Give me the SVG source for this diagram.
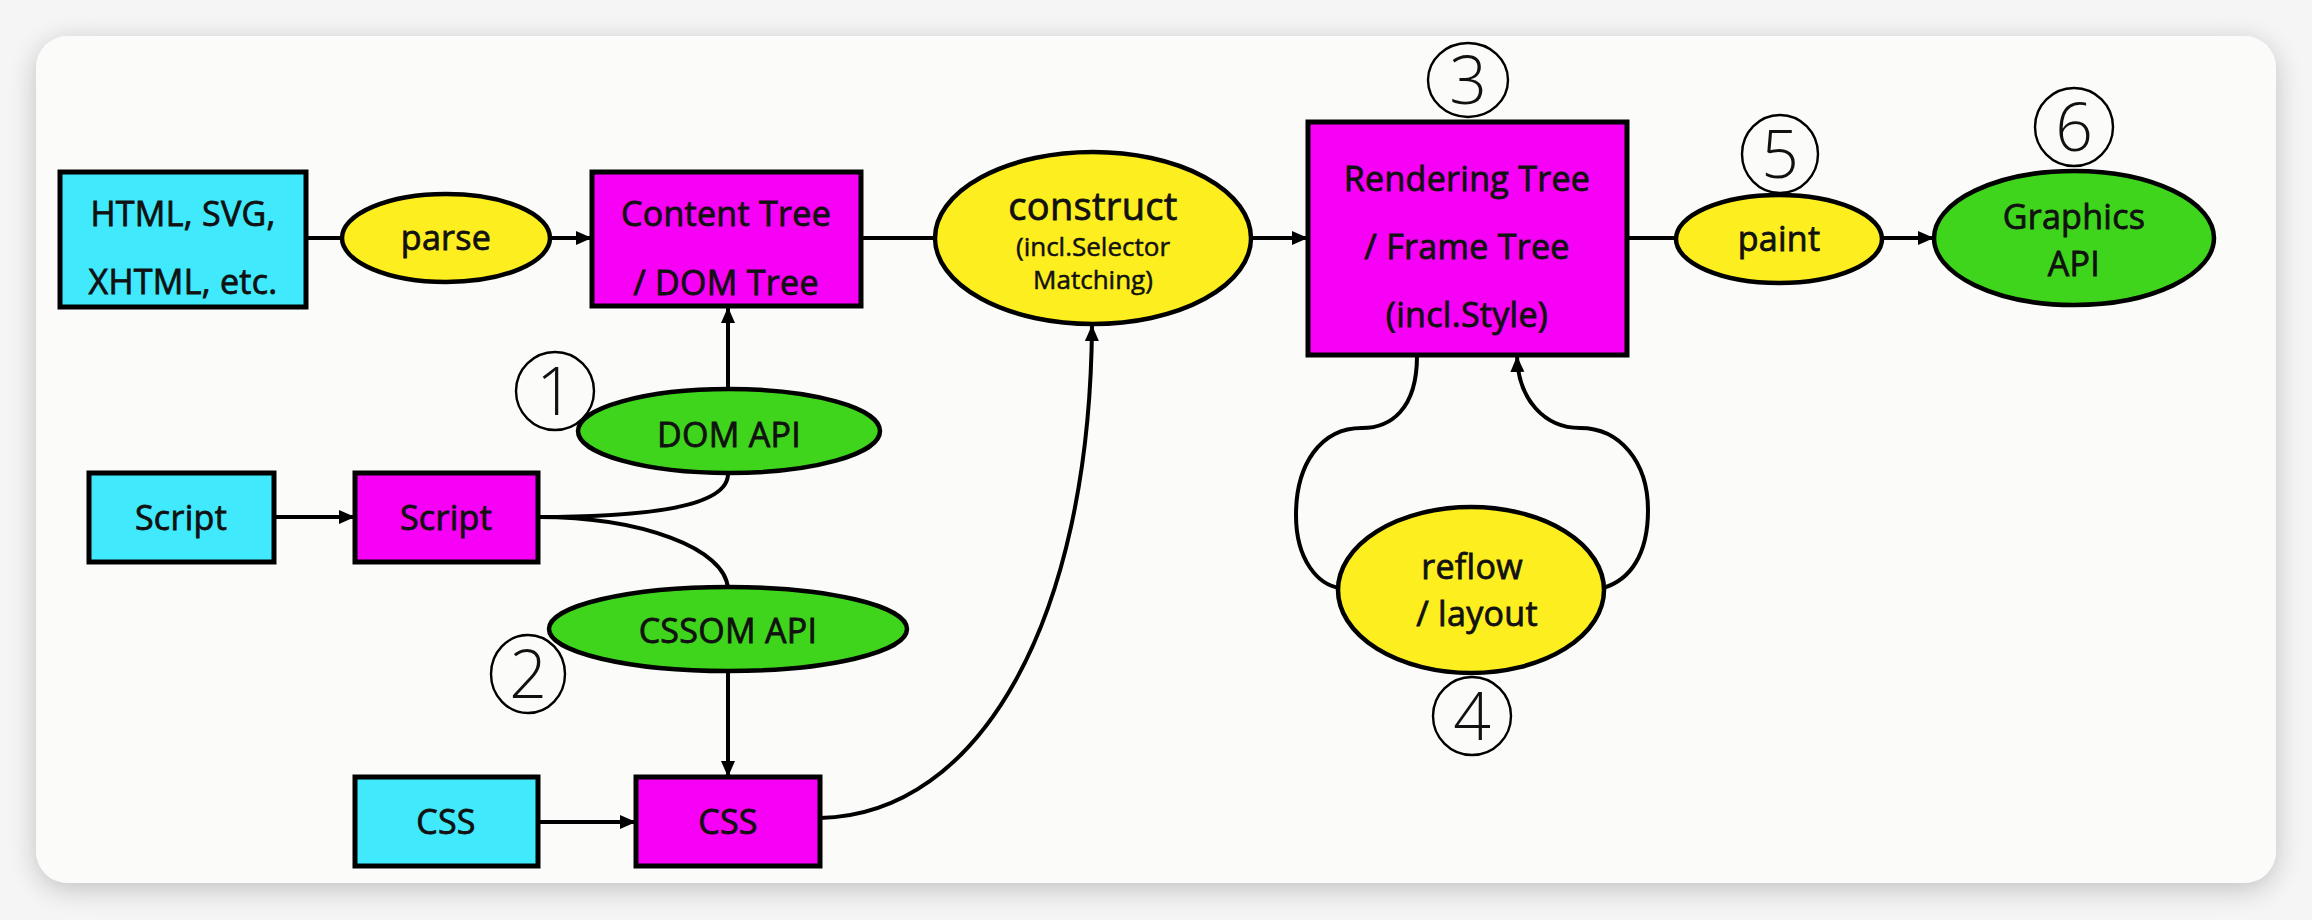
<svg xmlns="http://www.w3.org/2000/svg" width="2312" height="920" viewBox="0 0 2312 920">
<defs>
<filter id="sh" x="-5%" y="-10%" width="110%" height="120%">
<feGaussianBlur in="SourceAlpha" stdDeviation="14"/>
<feOffset dx="0" dy="6"/>
<feComponentTransfer><feFuncA type="linear" slope="0.22"/></feComponentTransfer>
<feMerge><feMergeNode/><feMergeNode in="SourceGraphic"/></feMerge>
</filter>
<marker id="ah" markerUnits="userSpaceOnUse" markerWidth="18" markerHeight="16" refX="16" refY="8" orient="auto">
<path d="M0,1 L16,8 L0,15 Z" fill="#000"/>
</marker>
<style>
.box{stroke:#000;stroke-width:5}
.ell{stroke:#000;stroke-width:4.5}
.cy{fill:#40e9fb}
.mg{fill:#f600f6}
.ye{fill:#fdee1f}
.gr{fill:#3fd51c}
.num{fill:none;stroke:#000;stroke-width:2.4}
text{font-family:"Open Sans","Liberation Sans",sans-serif;fill:#111;text-anchor:middle}
.t{font-size:34px;stroke:#111;stroke-width:0.8;letter-spacing:0.3px}
.s{font-size:26px;stroke:#111;stroke-width:0.5}
.n{font-size:66px;font-weight:300}
.c{fill:none;stroke:#000;stroke-width:4}
</style>
</defs>
<rect width="2312" height="920" fill="#f5f5f5"/>
<rect x="36" y="36" width="2240" height="847" rx="32" fill="#fbfcfa" filter="url(#sh)"/>

<g id="connectors">
<line class="c" x1="306" y1="238" x2="343" y2="238"/>
<line class="c" x1="549" y1="238" x2="592" y2="238" marker-end="url(#ah)"/>
<line class="c" x1="728" y1="389" x2="728" y2="307" marker-end="url(#ah)"/>
<line class="c" x1="274" y1="517" x2="355" y2="517" marker-end="url(#ah)"/>
<path class="c" d="M538,517 C640,517 728,508 728,474"/>
<path class="c" d="M538,517 C640,517 726,548 728,589"/>
<line class="c" x1="728" y1="671" x2="728" y2="777" marker-end="url(#ah)"/>
<line class="c" x1="538" y1="822" x2="636" y2="822" marker-end="url(#ah)"/>
<path class="c" d="M820,818 C980,815 1090,620 1092,325" marker-end="url(#ah)"/>
<line class="c" x1="861" y1="238" x2="936" y2="238"/>
<line class="c" x1="1251" y1="238" x2="1308" y2="238" marker-end="url(#ah)"/>
<line class="c" x1="1627" y1="238" x2="1677" y2="238"/>
<line class="c" x1="1881" y1="238" x2="1934" y2="238" marker-end="url(#ah)"/>
<path class="c" d="M1417,356 C1417,410 1390,428 1362,428 C1320,428 1296,465 1296,515 C1296,560 1318,585 1340,588"/>
<path class="c" d="M1603,588 C1630,580 1648,555 1648,510 C1648,462 1620,428 1580,428 C1545,428 1518,400 1517,356" marker-end="url(#ah)"/>
</g>

<g id="n-html">
<rect class="box cy" x="60" y="172" width="246" height="135"/>
<text class="t" x="183" y="226">HTML, SVG,</text>
<text class="t" x="183" y="294">XHTML, etc.</text>
</g>
<g id="n-parse">
<ellipse class="ell ye" cx="446" cy="238" rx="104" ry="44"/>
<text class="t" x="446" y="250">parse</text>
</g>
<g id="n-content">
<rect class="box mg" x="592" y="172" width="269" height="134"/>
<text class="t" x="726" y="226">Content Tree</text>
<text class="t" x="726" y="295">/ DOM Tree</text>
</g>
<g id="n-construct">
<ellipse class="ell ye" cx="1093" cy="238" rx="158" ry="86"/>
<text class="t" x="1093" y="220" style="font-size:38px">construct</text>
<text class="s" x="1093" y="256">(incl.Selector</text>
<text class="s" x="1093" y="289">Matching)</text>
</g>
<g id="n-render">
<rect class="box mg" x="1308" y="122" width="319" height="233"/>
<text class="t" x="1467" y="191">Rendering Tree</text>
<text class="t" x="1467" y="259">/ Frame Tree</text>
<text class="t" x="1467" y="327">(incl.Style)</text>
</g>
<g id="n-paint">
<ellipse class="ell ye" cx="1779" cy="239" rx="103" ry="44"/>
<text class="t" x="1779" y="251">paint</text>
</g>
<g id="n-graphics">
<ellipse class="ell gr" cx="2074" cy="238" rx="140" ry="67"/>
<text class="t" x="2074" y="229">Graphics</text>
<text class="t" x="2074" y="276">API</text>
</g>
<g id="n-domapi">
<ellipse class="ell gr" cx="729" cy="431" rx="151" ry="42"/>
<text class="t" x="729" y="447">DOM API</text>
</g>
<g id="n-script-src">
<rect class="box cy" x="89" y="473" width="185" height="89"/>
<text class="t" x="181" y="530">Script</text>
</g>
<g id="n-script">
<rect class="box mg" x="355" y="473" width="183" height="89"/>
<text class="t" x="446" y="530">Script</text>
</g>
<g id="n-cssomapi">
<ellipse class="ell gr" cx="728" cy="629" rx="179" ry="42"/>
<text class="t" x="728" y="643">CSSOM API</text>
</g>
<g id="n-css-src">
<rect class="box cy" x="355" y="777" width="183" height="89"/>
<text class="t" x="446" y="834">CSS</text>
</g>
<g id="n-css">
<rect class="box mg" x="636" y="777" width="184" height="89"/>
<text class="t" x="728" y="834">CSS</text>
</g>
<g id="n-reflow">
<ellipse class="ell ye" cx="1471" cy="590" rx="133" ry="83"/>
<text class="t" x="1472" y="579">reflow</text>
<text class="t" x="1477" y="626">/ layout</text>
</g>
<g id="num1"><ellipse class="num" cx="555" cy="391" rx="39" ry="39"/><text class="n" x="555" y="415">1</text></g>
<g id="num2"><ellipse class="num" cx="528" cy="674" rx="37" ry="39"/><text class="n" x="528" y="698">2</text></g>
<g id="num3"><ellipse class="num" cx="1468" cy="80" rx="40" ry="37"/><text class="n" x="1468" y="104">3</text></g>
<g id="num4"><ellipse class="num" cx="1472" cy="716" rx="39" ry="39"/><text class="n" x="1472" y="740">4</text></g>
<g id="num5"><ellipse class="num" cx="1780" cy="154" rx="38" ry="39"/><text class="n" x="1780" y="178">5</text></g>
<g id="num6"><ellipse class="num" cx="2074" cy="127" rx="39" ry="39"/><text class="n" x="2074" y="151">6</text></g>
</svg>
